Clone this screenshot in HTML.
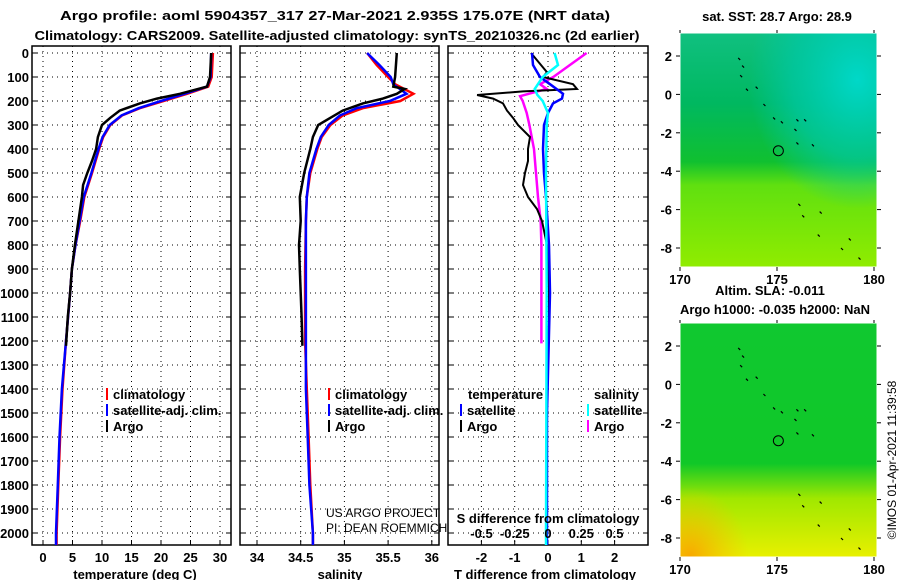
<!DOCTYPE html>
<html><head><meta charset="utf-8"><style>
body{margin:0;background:#fff}
svg{display:block;font-family:"Liberation Sans",sans-serif}
.b{font-weight:bold;font-size:13px}
</style></head><body>
<svg id="c" width="900" height="580" viewBox="0 0 900 580" xmlns="http://www.w3.org/2000/svg">
<defs>
<linearGradient id="m1" x1="0" y1="0" x2="0" y2="1">
<stop offset="0" stop-color="#10c080"/><stop offset="0.3" stop-color="#00b860"/><stop offset="0.55" stop-color="#10c030"/><stop offset="0.65" stop-color="#60e010"/><stop offset="1" stop-color="#90ec00"/></linearGradient>
<radialGradient id="m1c" cx="0.9" cy="0.2" r="0.55"><stop offset="0" stop-color="#00d8c8"/><stop offset="0.6" stop-color="#00c8a8" stop-opacity="0.7"/><stop offset="1" stop-color="#00c8a8" stop-opacity="0"/></radialGradient>
<linearGradient id="m2" x1="0" y1="0" x2="0" y2="1">
<stop offset="0" stop-color="#10c830"/><stop offset="0.6" stop-color="#10c828"/><stop offset="0.75" stop-color="#a0e800"/><stop offset="1" stop-color="#e8f000"/></linearGradient>
<radialGradient id="m2c" cx="0.05" cy="1" r="0.3"><stop offset="0" stop-color="#f8a800"/><stop offset="1" stop-color="#f8c000" stop-opacity="0"/></radialGradient>
</defs>
<g id="root"></g>
</svg>
<script>
// depth (dbar) arrays and values
const tDepth=[0,100,140,170,200,230,260,300,350,400,500,600,700,800,900,1000,1200,1400,1600,1800,2000,2050];
const tClim=[28.8,28.6,28.0,24.4,20.4,16.4,13.4,11.4,10.2,9.5,8.3,7.0,6.3,5.5,4.9,4.6,3.9,3.3,2.9,2.6,2.3,2.3];
const tSat=[28.5,28.4,27.8,24.0,20.0,16.2,13.3,11.3,10.1,9.4,8.2,6.9,6.2,5.5,4.9,4.6,3.9,3.2,2.8,2.5,2.2,2.2];
const aDepth=[0,100,140,170,190,210,240,270,300,350,400,450,500,550,600,700,800,900,1000,1100,1220];
const tArgo=[28.5,28.3,27.8,23.2,19.3,16.4,13.0,11.4,10.0,9.3,9.0,8.3,7.5,6.8,6.6,6.0,5.4,4.9,4.6,4.2,3.9];
const sDepth=[0,50,100,130,170,200,230,260,300,350,400,500,600,700,900,1200,1400,1600,1800,2000,2050];
const sClim=[35.26,35.37,35.50,35.58,35.79,35.64,35.21,34.98,34.84,34.74,34.69,34.61,34.57,34.56,34.55,34.55,34.57,34.59,34.61,34.64,34.64];
const sSat=[35.26,35.40,35.53,35.56,35.71,35.52,35.14,34.95,34.82,34.73,34.68,34.60,34.57,34.56,34.56,34.56,34.56,34.58,34.60,34.64,34.64];
const sArgoDepth=[0,100,140,150,170,190,210,240,270,300,350,400,500,600,700,800,900,1000,1100,1220];
const sArgo=[35.60,35.58,35.56,35.69,35.60,35.44,35.21,34.98,34.84,34.70,34.64,34.61,34.54,34.49,34.50,34.48,34.49,34.50,34.51,34.52];
const dTDepth=[0,80,100,130,150,160,175,190,210,240,270,300,350,400,450,500,550,600,650,700,800,900,1000,1100,1220];
const dTArgo=[-0.51,-0.03,-0.15,0.75,0.87,-0.75,-2.13,-1.65,-1.35,-1.23,-1.05,-0.9,-0.54,-0.6,-0.6,-0.69,-0.75,-0.6,-0.33,-0.18,-0.03,0,0.03,0.03,0];
const dTSatDepth=[0,50,100,130,170,190,210,250,300,400,500,600,800,1000,1500,2000,2050];
const dTSat=[-0.48,-0.45,-0.24,0.06,0.45,0.42,0.15,0,-0.12,-0.15,-0.12,-0.06,0.03,0.06,-0.03,-0.03,-0.03];
const dSSatDepth=[0,50,100,150,175,200,250,300,500,1000,2000,2050];
const dSSat=[0.05,0.075,-0.04,-0.1,-0.08,-0.04,0,-0.01,-0.015,-0.01,-0.015,-0.015];
const dSArgoDepth=[0,50,100,130,150,160,180,200,250,300,400,500,600,700,800,1000,1210];
const dSArgo=[0.29,0.165,0.04,-0.06,-0.01,-0.08,-0.21,-0.19,-0.16,-0.14,-0.105,-0.09,-0.075,-0.055,-0.05,-0.05,-0.05];
const depthTicks=[0,100,200,300,400,500,600,700,800,900,1000,1100,1200,1300,1400,1500,1600,1700,1800,1900,2000];
const tTicks=[0,5,10,15,20,25,30];
const sTicks=[34,34.5,35,35.5,36];
const sTickLabels=["34","34.5","35","35.5","36"];
const dTTicks=[-2,-1,0,1,2];
const dSTicks=[-0.5,-0.25,0,0.25,0.5];
const latTicks=[2,0,-2,-4,-6,-8];
const lonTicks=[170,175,180];

const NS='http://www.w3.org/2000/svg';
const root=document.getElementById('root');
function el(tag,attrs,parent,text){const e=document.createElementNS(NS,tag);for(const k in attrs)e.setAttribute(k,attrs[k]);if(text!==undefined)e.textContent=text;(parent||root).appendChild(e);return e;}
const yD=d=>53+d*0.24;
const xT=t=>43+t*5.9;
const xS=s=>257+(s-34)*87.4;
const xdT=v=>548+v*33.3;
const xdS=v=>548+v*133;
const TOP=46,BOT=545;
const panels=[[32,231],[240,439],[448,648]];

// titles
let t=el('text',{x:335,y:20,'text-anchor':'middle',class:'b','font-size':'14.5',textLength:550,lengthAdjust:'spacingAndGlyphs'},root,'Argo profile: aoml 5904357_317 27-Mar-2021 2.935S 175.07E (NRT data)');


t=el('text',{x:337,y:40,'text-anchor':'middle',class:'b','font-size':'14.5',textLength:605,lengthAdjust:'spacingAndGlyphs'},root,'Climatology: CARS2009. Satellite-adjusted climatology: synTS_20210326.nc (2d earlier)');



// depth labels
depthTicks.forEach(d=>{const e=el('text',{x:29,y:yD(d)+5,'text-anchor':'end',class:'b'},root,String(d));

});

function grid(p,xs,g){const [l,r]=panels[p];
 depthTicks.forEach(d=>{el('line',{x1:l,x2:r,y1:yD(d),y2:yD(d),stroke:'#000','stroke-dasharray':'1,4'},g);el('line',{x1:l,x2:l+5,y1:yD(d),y2:yD(d),stroke:'#000'},g);el('line',{x1:r-5,x2:r,y1:yD(d),y2:yD(d),stroke:'#000'},g);});
 xs.forEach(x=>{el('line',{x1:x,x2:x,y1:TOP,y2:BOT,stroke:'#000','stroke-dasharray':'1,4'},g);el('line',{x1:x,x2:x,y1:BOT-5,y2:BOT,stroke:'#000'},g);});
 el('rect',{x:l,y:TOP,width:r-l,height:BOT-TOP,fill:'none',stroke:'#000','stroke-width':1.5},g);
}
function line(g,name,depths,vals,xf,color,w){const pts=depths.map((d,i)=>xf(vals[i]).toFixed(1)+','+yD(d).toFixed(1)).join(' ');
 const e=el('polyline',{points:pts,fill:'none',stroke:color,'stroke-width':w||2},g);
 
 }
function legend(g,x,y,color,txt,name){el('line',{x1:x,x2:x,y1:y-11,y2:y+1,stroke:color,'stroke-width':2},g);const e=el('text',{x:x+6,y:y,class:'b','font-size':'12'},g,txt);
 
 }
function xlabels(g,ticks,xf,labels,y){ticks.forEach((v,i)=>{const e=el('text',{x:xf(v),y:y,'text-anchor':'middle',class:'b'},g,labels?labels[i]:String(v));
 
 });}

// panel 1 temperature
let g1=el('g',{});
grid(0,tTicks.map(xT),g1);
line(g1,'temperature-climatology',tDepth,tClim,xT,'#f00',2.5);
line(g1,'temperature-satellite',tDepth,tSat,xT,'#00f',2.5);
line(g1,'temperature-argo',aDepth,tArgo,xT,'#000',2.5);
xlabels(g1,tTicks,xT,null,562);
t=el('text',{x:135,y:579,'text-anchor':'middle',class:'b'},g1,'temperature (deg C)');
legend(g1,107,399,'#f00','climatology','legend-climatology');
legend(g1,107,415,'#00f','satellite-adj. clim.','legend-satellite');
legend(g1,107,431,'#000','Argo','legend-argo');

// panel 2 salinity
let g2=el('g',{});
grid(1,sTicks.map(xS),g2);
line(g2,'salinity-climatology',sDepth,sClim,xS,'#f00',2.5);
line(g2,'salinity-satellite',sDepth,sSat,xS,'#00f',2.5);
line(g2,'salinity-argo',sArgoDepth,sArgo,xS,'#000',2.5);
xlabels(g2,sTicks,xS,sTickLabels,562);
t=el('text',{x:340,y:579,'text-anchor':'middle',class:'b'},g2,'salinity');
legend(g2,329,399,'#f00','climatology','legend-climatology');
legend(g2,329,415,'#00f','satellite-adj. clim.','legend-satellite');
legend(g2,329,431,'#000','Argo','legend-argo');
t=el('text',{x:326,y:517,'font-size':'12'},g2,'US ARGO PROJECT');
t=el('text',{x:326,y:532,'font-size':'12'},g2,'PI: DEAN ROEMMICH');

// panel 3 differences
let g3=el('g',{});
grid(2,dTTicks.map(xdT),g3);
line(g3,'salinity-diff-argo',dSArgoDepth,dSArgo,xdS,'#f0f',2.5);
line(g3,'temperature-diff-argo',dTDepth,dTArgo,xdT,'#000',2);
line(g3,'temperature-diff-satellite',dTSatDepth,dTSat,xdT,'#00f',2.5);
line(g3,'salinity-diff-satellite',dSSatDepth,dSSat,xdS,'#0ff',2.5);
xlabels(g3,dTTicks,xdT,null,562);
xlabels(g3,dSTicks,xdS,null,538);
t=el('text',{x:548,y:523,'text-anchor':'middle',class:'b'},g3,'S difference from climatology');
t=el('text',{x:545,y:579,'text-anchor':'middle',class:'b'},g3,'T difference from climatology');
t=el('text',{x:468,y:399,class:'b','font-size':'12'},g3,'temperature');
t=el('text',{x:594,y:399,class:'b','font-size':'12'},g3,'salinity');
legend(g3,461,415,'#00f','satellite','legend-t-satellite');
legend(g3,461,431,'#000','Argo','legend-t-argo');
legend(g3,588,415,'#0ff','satellite','legend-s-satellite');
legend(g3,588,431,'#f0f','Argo','legend-s-argo');

// maps
const islands=[[173,1.9],[173.2,1.5],[173.1,1.0],[173.4,0.3],[173.9,0.4],[174.3,-0.5],[174.8,-1.2],[175.2,-1.4],[175.9,-1.8],[176,-1.3],[176.4,-1.3],[176,-2.5],[176.8,-2.6],[176.1,-5.7],[176.3,-6.3],[177.2,-6.1],[177.1,-7.3],[178.7,-7.5],[178.3,-8.0],[179.2,-8.5]];
function map(y0,fill,over,name,latY2){const g=el('g',{});
 const L=680,R=877,T=y0,B=y0+234;
 const xL=lon=>680+(lon-170)*19.4, yL=lat=>latY2+(2-lat)*19.2;
 el('rect',{x:L,y:T,width:R-L,height:B-T,fill:'url(#'+fill+')'},g);
 el('rect',{x:L,y:T,width:R-L,height:B-T,fill:'url(#'+over+')'},g);
 islands.forEach(p=>el('line',{x1:xL(p[0]),y1:yL(p[1]),x2:xL(p[0])+2,y2:yL(p[1])+2,stroke:'#000','stroke-width':1.2},g));
 const c=el('circle',{cx:xL(175.07),cy:yL(-2.935),r:5,fill:'none',stroke:'#000'},g);
 
 
 el('rect',{x:L,y:T,width:R-L,height:B-T,fill:'none',stroke:'#fff','stroke-width':1},g);
 latTicks.forEach(v=>{el('line',{x1:L-4,x2:L,y1:yL(v),y2:yL(v),stroke:'#000'},g);el('line',{x1:R,x2:R+4,y1:yL(v),y2:yL(v),stroke:'#000'},g);
  const e=el('text',{x:L-8,y:yL(v)+5,'text-anchor':'end',class:'b'},g,String(v));
  
  });
 lonTicks.forEach(v=>{el('line',{x1:xL(v),x2:xL(v),y1:T-3,y2:T,stroke:'#000'},g);el('line',{x1:xL(v),x2:xL(v),y1:B,y2:B+4,stroke:'#000'},g);
  const e=el('text',{x:xL(v),y:B+17,'text-anchor':'middle',class:'b'},g,String(v));
  
  });
}
map(33,'m1','m1c','sst-map',56);
map(323,'m2','m2c','sla-map',346);
t=el('text',{x:777,y:21,'text-anchor':'middle',class:'b','font-size':'12'},root,'sat. SST: 28.7 Argo: 28.9');
t=el('text',{x:770,y:295,'text-anchor':'middle',class:'b','font-size':'12'},root,'Altim. SLA: -0.011');
t=el('text',{x:775,y:314,'text-anchor':'middle',class:'b','font-size':'12'},root,'Argo h1000: -0.035 h2000: NaN');
t=el('text',{x:0,y:0,'text-anchor':'middle','font-size':'12',transform:'translate(896,460) rotate(-90)'},root,'©IMOS 01-Apr-2021 11:39:58');
</script>
</body></html>
